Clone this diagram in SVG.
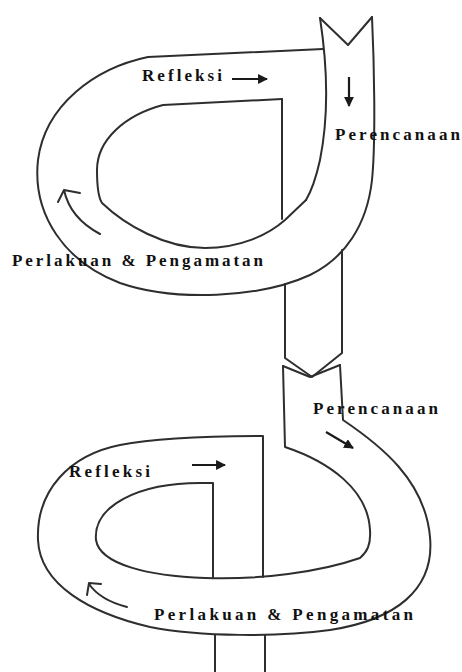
<svg xmlns="http://www.w3.org/2000/svg" width="462" height="672" viewBox="0 0 462 672">
<style>
.ln{fill:none;stroke:#2e2e2e;stroke-width:2;stroke-linejoin:round;stroke-linecap:round}
.ar{fill:none;stroke:#1a1a1a;stroke-width:2.2}
.cv{fill:none;stroke:#2e2e2e;stroke-width:2;stroke-linecap:round;stroke-linejoin:round}
.lb{font-family:"Liberation Serif","Times New Roman",serif;font-weight:bold;font-size:17px;fill:#111}
</style>
<defs>
<marker id="ah" viewBox="0 0 10 10" refX="9" refY="5" markerWidth="4.5" markerHeight="4.5" orient="auto" markerUnits="strokeWidth">
<path d="M0,0 L10,5 L0,10 Z" fill="#1a1a1a"/>
</marker>
</defs>
<rect width="462" height="672" fill="#fff"/>
<g id="cycle1">
<path class="ln" d="M320,18 L348,45 L372,17"/>
<path class="ln" d="M320,18 C328,70 328,120 320,160 C316,178 312,190 306,200"/>
<path class="ln" d="M323,49 L148,57 C95,68 45,105 38,160 C32,215 65,262 120,283 C175,302 260,298 310,275 C345,258 367,225 372,180 C376,140 374,60 372,17"/>
<path class="ln" d="M282,99 L163,105 C125,115 97,140 97,170 C97,190 100,200 102,203 C125,225 165,248 205,248 C240,248 268,235 285,220 L306,200"/>
<path class="ln" d="M282,99 L282,219"/>
<path class="ln" d="M285,284 L285,358 L312,377 L342,353 L342,250"/>
</g>
<g id="cycle2">
<path class="ln" d="M283,366 L310,377 L340,365"/>
<path class="ln" d="M283,366 L285,447 C330,462 368,490 370,530 C371,545 367,552 360,558 C320,572 260,580 205,578 C150,576 100,565 96,540 C93,505 140,483 200,483 L213,483 L213,578"/>
<path class="ln" d="M340,365 L343,420 C380,445 425,480 430,537 C435,590 395,620 330,630 C280,637 200,637 150,627 C90,613 40,585 38,540 C36,490 70,455 120,445 C160,437 220,436 263,436 L263,577"/>
<path class="ln" d="M215,635 L215,672 M265,635 L265,672"/>
</g>
<g id="connectors">
<line class="ar" x1="232" y1="79" x2="267" y2="79" marker-end="url(#ah)"/>
<line class="ar" x1="349" y1="77" x2="349" y2="106" marker-end="url(#ah)"/>
<path class="cv" d="M100,234 Q70,218 64,190 M58,202 L64,190 L80,193"/>
<line class="ar" x1="192" y1="465" x2="225" y2="465" marker-end="url(#ah)"/>
<line class="ar" x1="326" y1="432" x2="353" y2="448" marker-end="url(#ah)"/>
<path class="cv" d="M127,607 Q100,600 89,584 M87,595 L89,583 L101,584"/>
</g>
<g id="labels">
<text id="refleksi1" class="lb" x="142" y="81" textLength="80" lengthAdjust="spacing">Refleksi</text>
<text id="perencanaan1" class="lb" x="335" y="140" textLength="125" lengthAdjust="spacing">Perencanaan</text>
<text id="perlakuan1" class="lb" x="12" y="266" textLength="251" lengthAdjust="spacing">Perlakuan &amp; Pengamatan</text>
<text id="perencanaan2" class="lb" x="313" y="414" textLength="125" lengthAdjust="spacing">Perencanaan</text>
<text id="refleksi2" class="lb" x="69" y="477" textLength="81" lengthAdjust="spacing">Refleksi</text>
<text id="perlakuan2" class="lb" x="154" y="620" textLength="259" lengthAdjust="spacing">Perlakuan &amp; Pengamatan</text>
</g>
</svg>
